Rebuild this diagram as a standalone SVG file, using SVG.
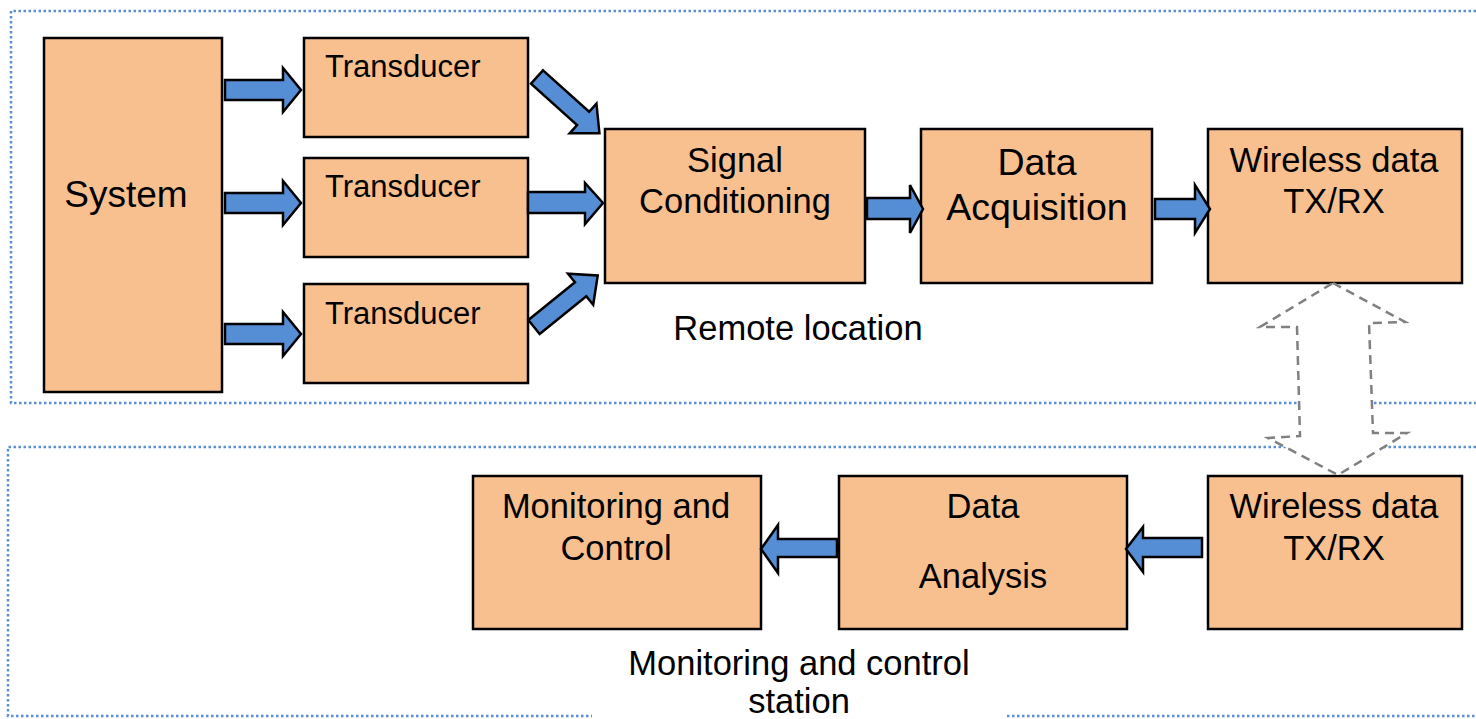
<svg xmlns="http://www.w3.org/2000/svg" width="1476" height="719" viewBox="0 0 1476 719">
<style>
.frame{fill:none;stroke:#5B8FD6;stroke-width:2.5;stroke-dasharray:2.5 2.5}
.box{fill:#F9C08F;stroke:#000;stroke-width:2.5}
.arr{fill:#558ED5;stroke:#000;stroke-width:2.5;stroke-linejoin:miter}
.dash{fill:#fff;stroke:#808080;stroke-width:2.5;stroke-dasharray:9 6}
text{font-family:"Liberation Sans",Arial,sans-serif;fill:#000;font-size:34.5px}
.c{text-anchor:middle}
text.sys{font-size:37px}
text.tr{font-size:31px}
text.big{font-size:37.5px}
</style>
<rect width="1476" height="719" fill="#fff"/>
<g id="frames">
<path class="frame" d="M1476,11 H11 V403 H1476"/>
<path class="frame" d="M1476,447 H8 V716 H592 M1007,716 H1476"/>
</g>
<g id="system"><rect class="box" x="44" y="38" width="178" height="354"/><text x="126" y="207" class="c sys">System</text></g>
<g id="transducer1"><rect class="box" x="304" y="38" width="224" height="99"/><text x="325" y="77" class="tr">Transducer</text></g>
<g id="transducer2"><rect class="box" x="304" y="158" width="224" height="99"/><text x="325" y="197" class="tr">Transducer</text></g>
<g id="transducer3"><rect class="box" x="304" y="284" width="224" height="99"/><text x="325" y="324" class="tr">Transducer</text></g>
<g id="signal"><rect class="box" x="605" y="129" width="260" height="154"/><text x="735" y="172" class="c">Signal</text><text x="735" y="213" class="c">Conditioning</text></g>
<g id="acquisition"><rect class="box" x="921" y="129" width="231" height="154"/><text x="1037" y="175" class="c big">Data</text><text x="1037" y="220" class="c big">Acquisition</text></g>
<g id="wireless-top"><rect class="box" x="1208" y="129" width="254" height="154"/><text x="1334" y="172" class="c">Wireless data</text><text x="1334" y="213" class="c">TX/RX</text></g>
<g id="wireless-bottom"><rect class="box" x="1208" y="476" width="254" height="153"/><text x="1334" y="518" class="c">Wireless data</text><text x="1334" y="560" class="c">TX/RX</text></g>
<g id="analysis"><rect class="box" x="839" y="476" width="288" height="153"/><text x="983" y="518" class="c">Data</text><text x="983" y="588" class="c">Analysis</text></g>
<g id="monitoring"><rect class="box" x="473" y="476" width="288" height="153"/><text x="616" y="518" class="c">Monitoring and</text><text x="616" y="560" class="c">Control</text></g>
<g id="remote-label"><text x="798" y="340" class="c">Remote location</text></g>
<g id="station-label"><text x="799" y="675" class="c">Monitoring and control</text><text x="799" y="713" class="c">station</text></g>
<g id="connectors">
<polygon class="arr" points="225,80 283,80 283,68 301,90 283,112 283,100 225,100"/>
<polygon class="arr" points="225,193 283,193 283,181 301,203 283,225 283,213 225,213"/>
<polygon class="arr" points="225,324 283,324 283,312 301,334 283,356 283,344 225,344"/>
<polygon class="arr" points="528,192 585,192 585,183 603,203 585,224 585,213 528,213"/>
<polygon class="arr" transform="translate(537,77) rotate(42)" points="0,-9 62,-9 62,-20 84,0 62,20 62,9 0,9"/>
<polygon class="arr" transform="translate(534,327) rotate(-39)" points="0,-9 60,-9 60,-20 82,0 60,20 60,9 0,9"/>
<polygon class="arr" points="867,198 910,198 910,185 923,209 910,233 910,219 867,219"/>
<polygon class="arr" points="1155,199 1195,199 1195,185 1210,209 1195,233 1195,219 1155,219"/>
<polygon class="arr" points="1202,538 1143,538 1143,527 1126,549 1143,572 1143,557 1202,557"/>
<polygon class="arr" points="837,539 778,539 778,525 761,549 778,573 778,557 837,557"/>
<polygon class="dash" points="1333,283 1405,322 1369,323 1373,433 1407,433 1338,475 1268,438 1300,436 1297,327 1260,327"/>
</g>
</svg>
